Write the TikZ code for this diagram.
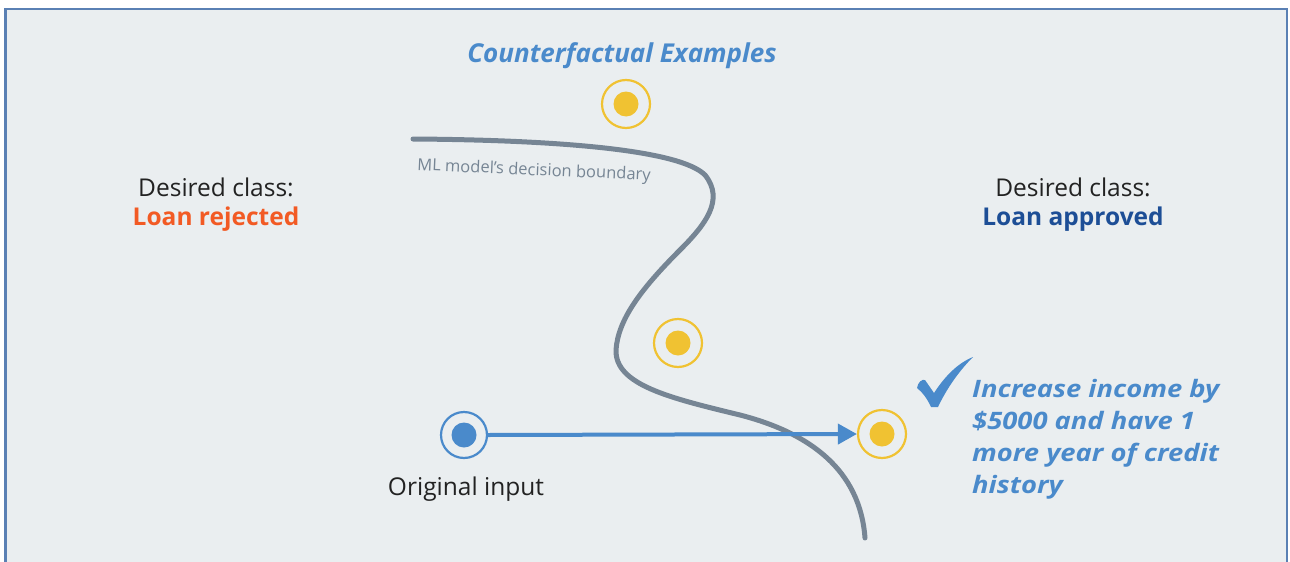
\documentclass[tikz,border=0pt]{standalone}
\usepackage{fontspec}
\setmainfont{Open Sans}
\newfontfamily\widebi{Open Sans}[FakeStretch=1.14]
\usetikzlibrary{arrows.meta}
\definecolor{bgc}{HTML}{EAEEF0}
\definecolor{framec}{HTML}{5A80B4}
\definecolor{cfblue}{HTML}{4A8ACB}
\definecolor{cfyellow}{HTML}{F0C232}
\definecolor{curvec}{HTML}{768594}
\definecolor{rejc}{HTML}{F25A24}
\definecolor{appc}{HTML}{1D4E96}
\definecolor{darktext}{HTML}{222222}
\tikzset{
  ring/.style={circle, draw=#1, line width=2.2pt, minimum size=48pt, inner sep=0pt},
  plain/.style={font=\fontsize{24.5}{28}\selectfont, text=darktext, inner sep=0pt},
  classlbl/.style={font=\fontsize{24.5}{28}\selectfont\bfseries, inner sep=0pt},
  bluetext/.style={font=\widebi\fontsize{24}{32}\selectfont\bfseries\itshape, text=cfblue, inner sep=0pt},
}
\begin{document}
\begin{tikzpicture}[x=1pt,y=-1pt]
\useasboundingbox (0,0) rectangle (1290,562);
\clip (0,0) rectangle (1290,562);
\fill[white] (0,0) rectangle (1290,562);
\draw[framec, line width=2.5pt, fill=bgc] (5.5,9) rectangle (1287,620);

% title
\node[font=\fontsize{26}{30}\selectfont\bfseries\itshape, text=cfblue, inner sep=0pt] (title) at (622,56) {Counterfactual Examples};

% decision boundary
\draw[curvec, line width=5pt, line cap=round]
  (413,139) .. controls (560,140) and (680,150) .. (705,175)
  .. controls (725,200) and (705,225) .. (680,250)
  .. controls (640,290) and (618,320) .. (616,350)
  .. controls (615,385) and (670,398) .. (740,415)
  .. controls (810,433) and (860,470) .. (865,538);
\node[font=\fontsize{16.5}{18}\selectfont, text=curvec, rotate=-2.5, inner sep=0pt] (blabel) at (534,171) {ML model's decision boundary};

% class labels
\node[plain] (dl) at (216,187) {Desired class:};
\node[classlbl, text=rejc] (rej) at (216,219) {Loan rejected};
\node[plain] (dr) at (1073,187) {Desired class:};
\node[classlbl, text=appc] (app) at (1073,219) {Loan approved};

% counterfactual points
\node[ring=cfyellow] (cf1) at (626,104) {};
\fill[cfyellow] (cf1.center) circle (12.5);
\node[ring=cfyellow] (cf2) at (678,343) {};
\fill[cfyellow] (cf2.center) circle (12.5);
\node[ring=cfyellow] (cf3) at (882,434) {};
\fill[cfyellow] (cf3.center) circle (12.5);

% original input
\node[ring=cfblue, minimum size=46pt] (orig) at (464,435) {};
\fill[cfblue] (orig.center) circle (12.5);
\node[plain] (origlbl) at (466,489) {Original input};

% arrow
\draw[cfblue, line width=4pt, -{Triangle[length=19pt,width=20pt]}] (orig.east) -- (cf3.west);

% check mark
\fill[cfblue] (917,388) .. controls (918,382) and (922,379) .. (925,380)
  -- (934,393) .. controls (945,376) and (958,363) .. (973,357)
  .. controls (958,372) and (946,390) .. (938,407)
  -- (931,407) .. controls (927,398) and (922,392) .. (917,388) -- cycle;

% explanation text
\node[bluetext, anchor=north west, align=left] (expl) at (972,379) {Increase income by\\\$5000 and have 1\\more year of credit\\history};
\end{tikzpicture}
\end{document}
